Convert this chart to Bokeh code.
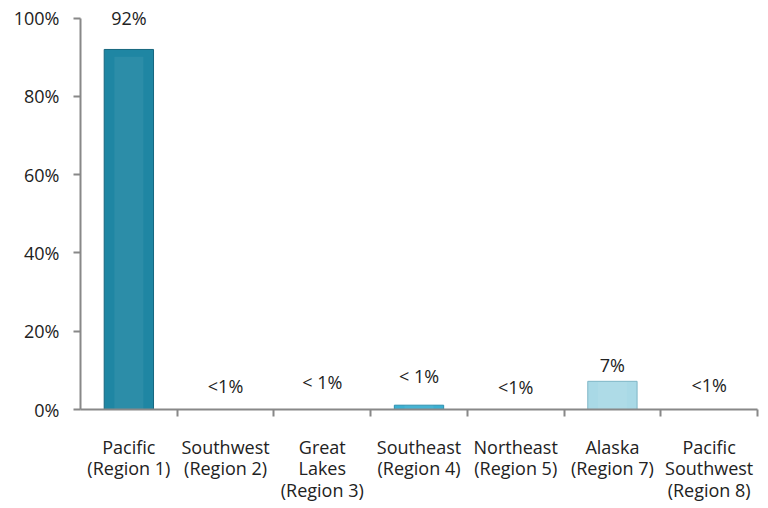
from bokeh.plotting import figure
from bokeh.models import FixedTicker, ColumnDataSource, Range1d, LabelSet
from bokeh.core.properties import value
from bokeh.embed import file_html
from bokeh.resources import INLINE

regions = ["Pacific\n(Region 1)", "Southwest\n(Region 2)", "Great\nLakes\n(Region 3)",
           "Southeast\n(Region 4)", "Northeast\n(Region 5)", "Alaska\n(Region 7)",
           "Pacific\nSouthwest\n(Region 8)"]
shares = [92, 0, 0, 1.1, 0, 7.2, 0]
labels = ["92%", "<1%", "< 1%", "< 1%", "<1%", "7%", "<1%"]
y_ticks = [0, 20, 40, 60, 80, 100]

FONT = "Open Sans"
FS = "18px"
fills = ["#1f86a3", "#3bb0d2", "#3bb0d2", "#3bb0d2", "#3bb0d2", "#a9d9e6", "#3bb0d2"]
lines = ["#16667e", "#2a8fae", "#2a8fae", "#2a8fae", "#2a8fae", "#7fb6c6", "#2a8fae"]
label_off = [31, 24, 28, 29, 23, 16, 25]  # pixels above bar top

centers = [i + 0.5 for i in range(len(regions))]
src = ColumnDataSource(dict(x=centers, top=shares, fill=fills, line=lines,
                            label=labels, off=label_off))

p = figure(frame_width=677, frame_height=407, output_backend="svg", toolbar_location=None,
           x_range=Range1d(0, len(regions)), y_range=Range1d(0, 104),
           min_border_left=80, min_border_right=4, min_border_top=2, min_border_bottom=4)
p.outline_line_color = None
p.grid.visible = False
p.background_fill_color = "white"

p.vbar(x="x", top="top", bottom=0, width=0.51, source=src,
       fill_color="fill", line_color="line", line_width=1)
hl = ColumnDataSource(dict(x=centers, top=[s * 0.98 for s in shares]))
p.vbar(x="x", top="top", bottom=0, width=0.3, source=hl,
       fill_color="white", fill_alpha=0.06, line_color=None)

ls = LabelSet(x="x", y="top", text="label", y_offset="off", source=src,
              text_align="center", text_baseline="middle", text_font=value(FONT),
              text_font_size=value(FS), text_color="#222222")
p.add_layout(ls)

xa = p.xaxis[0]
xa.ticker = FixedTicker(ticks=centers, minor_ticks=list(range(1, len(regions) + 1)))
xa.major_label_overrides = {c: r for c, r in zip(centers, regions)}
xa.major_tick_out = 0
xa.major_tick_in = 0
xa.minor_tick_out = 7
xa.minor_tick_in = 0
xa.minor_tick_line_color = "#888888"
xa.axis_line_color = "#888888"
xa.axis_line_width = 2
xa.minor_tick_line_width = 2
xa.major_label_text_font = FONT
xa.major_label_text_font_size = FS
xa.major_label_text_color = "#222222"
xa.major_label_standoff = 18
xa.major_label_text_line_height = 0.9

ya = p.yaxis[0]
ya.ticker = FixedTicker(ticks=y_ticks, minor_ticks=[])
ya.bounds = (0, 100)
ya.major_label_overrides = {t: f"{t}%" for t in y_ticks}
ya.major_tick_out = 7
ya.major_tick_in = 0
ya.major_tick_line_color = "#888888"
ya.major_tick_line_width = 2
ya.axis_line_color = "#888888"
ya.axis_line_width = 2
ya.major_label_text_font = FONT
ya.major_label_text_font_size = FS
ya.major_label_text_color = "#222222"
ya.major_label_standoff = 14

open("out.html", "w").write(file_html(p, INLINE))
